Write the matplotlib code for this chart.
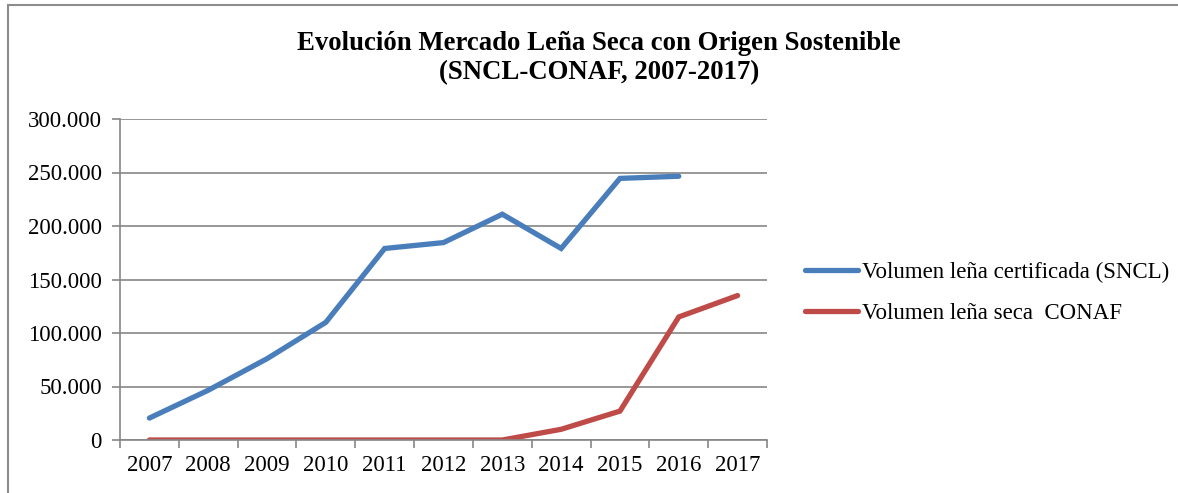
import numpy as np
import matplotlib.pyplot as plt
from matplotlib.patches import Rectangle
from matplotlib.ticker import FuncFormatter, FixedLocator

years = ["2007", "2008", "2009", "2010", "2011", "2012",
         "2013", "2014", "2015", "2016", "2017"]
sncl = [20500, 46500, 76000, 110000, 179000, 184500,
        211000, 179000, 244500, 246500, None]
conaf = [0, 0, 0, 0, 0, 0, 0, 10000, 27000, 115000, 135000]

series_labels = ["Volumen leña certificada (SNCL)", "Volumen leña seca  CONAF"]
title = "Evolución Mercado Leña Seca con Origen Sostenible\n(SNCL-CONAF, 2007-2017)"

BLUE = "#4a7ebb"
RED = "#be4b48"
GRID = "#868686"

plt.rcParams["font.family"] = ["Liberation Serif", "DejaVu Serif"]

fig = plt.figure(figsize=(11.78, 4.93), dpi=100)
W, H = 1178, 493

# chart border (cut off at right and bottom like the source screenshot)
fig.patches.append(Rectangle((8 / W, -0.1), 1.2, 1 - 5 / H + 0.1,
                             transform=fig.transFigure, fill=False,
                             edgecolor="#8c8c8c", linewidth=1.5))

ax = fig.add_axes([120 / W, 1 - 440 / H, (767 - 120) / W, (440 - 119) / H])

x = np.arange(len(years))
y1 = np.array([np.nan if v is None else v for v in sncl], dtype=float)
ax.plot(x, y1, color=BLUE, lw=3.8, solid_capstyle="round",
        solid_joinstyle="miter", label=series_labels[0])
ax.plot(x, conaf, color=RED, lw=3.8, solid_capstyle="round",
        solid_joinstyle="miter", label=series_labels[1])

ax.set_xlim(-0.5, len(years) - 0.5)
ax.set_ylim(0, 300000)
ax.set_yticks(np.arange(0, 300001, 50000))
ax.yaxis.set_major_formatter(FuncFormatter(lambda v, p: f"{int(v):,}".replace(",", ".")))
ax.grid(axis="y", color=GRID, linewidth=1.2)
ax.set_axisbelow(True)

ax.set_xticks(x)
ax.set_xticklabels(years)
ax.xaxis.set_minor_locator(FixedLocator(np.arange(-0.5, len(years), 1.0)))
ax.tick_params(axis="x", which="major", length=0, pad=11, labelsize=16.5)
ax.tick_params(axis="x", which="minor", length=6, width=1.2, color=GRID)
ax.tick_params(axis="y", length=6, width=1.2, color=GRID, pad=7, labelsize=16.5)

for s in ["top", "right"]:
    ax.spines[s].set_visible(False)
for s in ["left", "bottom"]:
    ax.spines[s].set_color(GRID)
    ax.spines[s].set_linewidth(1.2)

fig.text(599 / W, 1 - 58 / H, title, ha="center", va="center",
         fontsize=19.3, fontweight="bold", linespacing=1.25)

fig.legend(loc="center left", bbox_to_anchor=(805 / W, 1 - 293 / H),
           frameon=False, fontsize=16.5, handlelength=2.3, handletextpad=0.2,
           labelspacing=0.88, borderpad=0, borderaxespad=0)

fig.savefig("out.png", dpi=100, facecolor="white")
